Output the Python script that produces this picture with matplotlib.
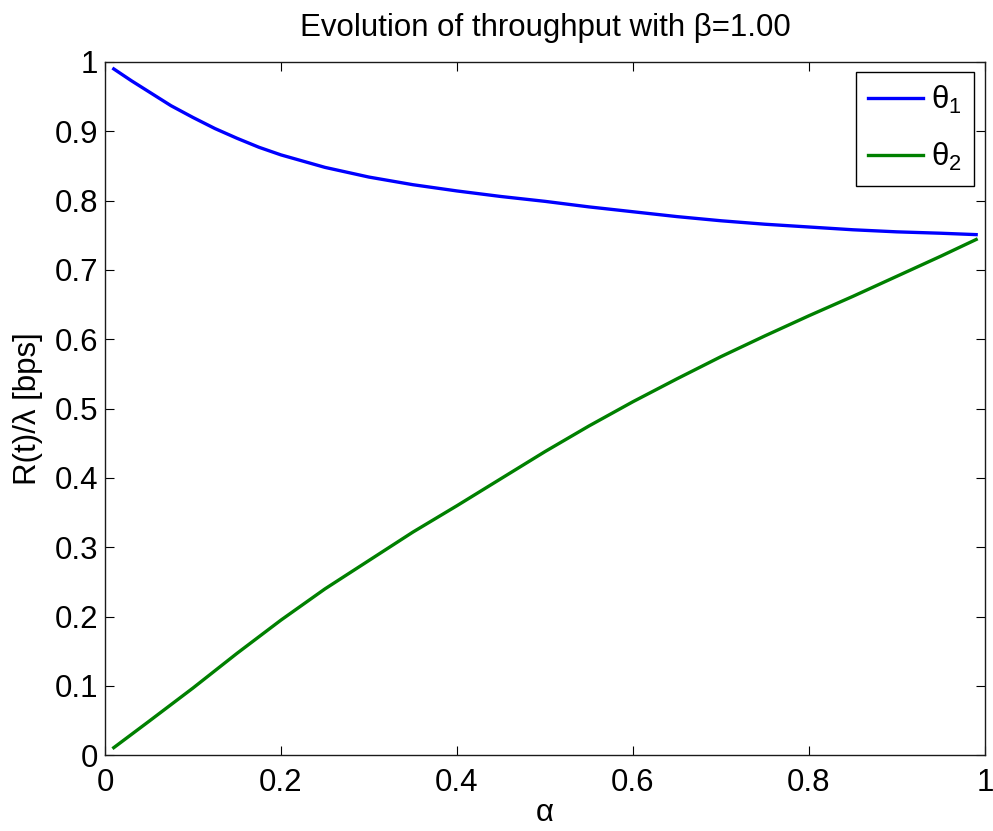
import matplotlib
matplotlib.use("Agg")
import matplotlib.pyplot as plt

# values
alpha_blue = [0.01, 0.03, 0.05, 0.075, 0.10, 0.125, 0.15, 0.175, 0.20, 0.25, 0.30, 0.35, 0.40,
              0.45, 0.50, 0.55, 0.60, 0.65, 0.70, 0.75, 0.80, 0.85, 0.90, 0.95, 0.99]
theta1 = [0.990, 0.973, 0.957, 0.937, 0.920, 0.904, 0.890, 0.877, 0.866, 0.848, 0.834, 0.823, 0.814,
          0.806, 0.799, 0.791, 0.784, 0.777, 0.771, 0.766, 0.762, 0.758, 0.755, 0.753, 0.751]

alpha_green = [0.01, 0.05, 0.10, 0.15, 0.20, 0.25, 0.30, 0.35, 0.40, 0.45, 0.50,
               0.55, 0.60, 0.65, 0.70, 0.75, 0.80, 0.85, 0.90, 0.95, 0.99]
theta2 = [0.011, 0.049, 0.097, 0.147, 0.195, 0.240, 0.281, 0.322, 0.360, 0.399, 0.438,
          0.475, 0.510, 0.543, 0.575, 0.605, 0.634, 0.662, 0.691, 0.720, 0.744]

labels = [r"$\mathrm{\theta}_{1}$", r"$\mathrm{\theta}_{2}$"]
x_ticks = [0, 0.2, 0.4, 0.6, 0.8, 1]
y_ticks = [0, 0.1, 0.2, 0.3, 0.4, 0.5, 0.6, 0.7, 0.8, 0.9, 1]

plt.rcParams["font.family"] = ["Liberation Sans", "DejaVu Sans"]
plt.rcParams["mathtext.fontset"] = "custom"
plt.rcParams["mathtext.rm"] = "Liberation Sans"
plt.rcParams["mathtext.it"] = "Liberation Sans:italic"
fs = 22.5

fig = plt.figure(figsize=(9.93, 8.31), dpi=100)
ax = fig.add_axes([0.1057, 0.0911, 0.8862, 0.8343])

ax.plot(alpha_blue, theta1, color=(0, 0, 1), linewidth=2.4, label=labels[0])
ax.plot(alpha_green, theta2, color=(0, 0.5, 0), linewidth=2.4, label=labels[1])

ax.set_xlim(0, 1)
ax.set_ylim(0, 1)
ax.set_xticks(x_ticks)
ax.set_xticklabels(["0", "0.2", "0.4", "0.6", "0.8", "1"])
ax.set_yticks(y_ticks)
ax.set_yticklabels(["0", "0.1", "0.2", "0.3", "0.4", "0.5", "0.6", "0.7", "0.8", "0.9", "1"])
ax.tick_params(direction="in", length=6.5, width=0.8, top=True, right=True, labelsize=fs)
ax.tick_params(axis="x", pad=9)
ax.tick_params(axis="y", pad=5)
for s in ax.spines.values():
    s.set_linewidth(1.0)
    s.set_color("#1a1a1a")

ax.set_title("Evolution of throughput with \u03b2=1.00", fontsize=fs, pad=19)
ax.set_xlabel("\u03b1", fontsize=fs, labelpad=0)
ax.set_ylabel("R(t)/\u03bb [bps]", fontsize=fs, labelpad=8)

leg = ax.legend(loc="upper right", bbox_to_anchor=(0.9875, 0.986), borderaxespad=0,
                fancybox=False, framealpha=1, edgecolor="black",
                handlelength=1.75, handletextpad=0.25, borderpad=0.4, labelspacing=0.8,
                fontsize=fs)
leg.get_frame().set_linewidth(1.0)

fig.savefig("out.png", dpi=100)
